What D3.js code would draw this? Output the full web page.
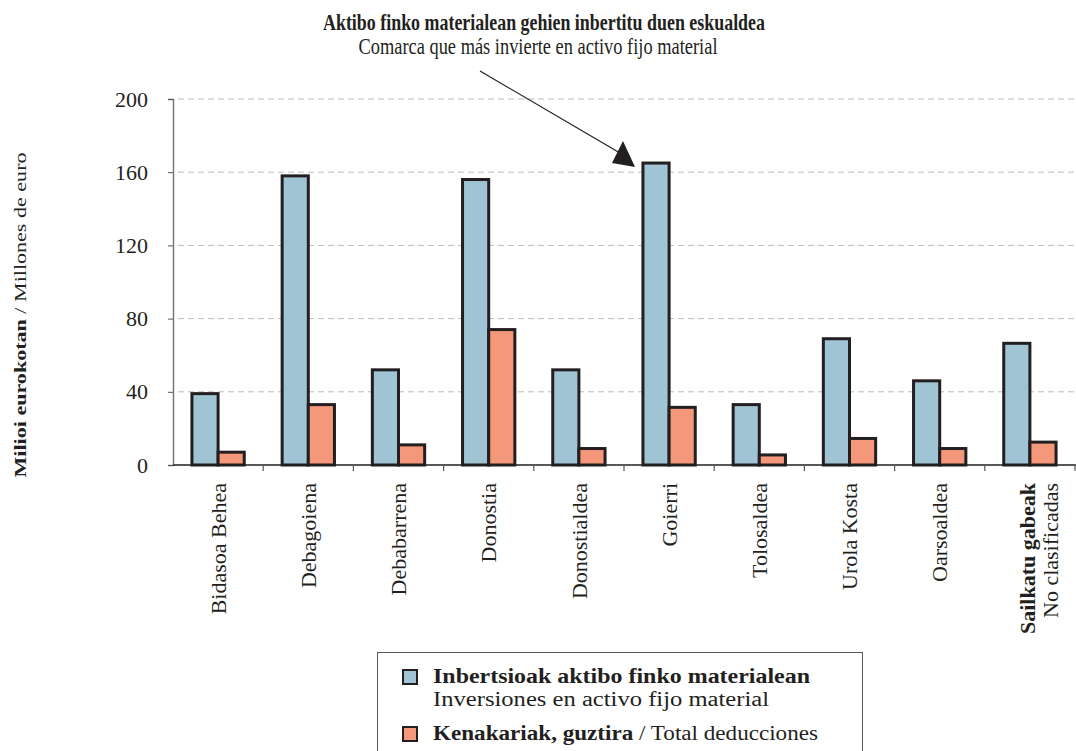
<!DOCTYPE html>
<meta charset="utf-8">
<style>
    body { margin: 0; background: #fff; }
    text { font-family: "Liberation Serif", "Times New Roman", serif; fill: #231f20; }
    .grid line { stroke: #bdbdbd; stroke-width: 1px; stroke-dasharray: 6,4; }
    .bar { stroke: #231f20; stroke-width: 3px; }
</style>
<svg></svg>
<script src="https://cdn.jsdelivr.net/npm/d3@7"></script>
<script>

    var width = 1076,
        height = 751;

    // comarcas
    var categories = ["Bidasoa Behea", "Debagoiena", "Debabarrena", "Donostia", "Donostialdea",
        "Goierri", "Tolosaldea", "Urola Kosta", "Oarsoaldea", "Sailkatu gabeak"];
    // Inbertsioak aktibo finko materialean (milioi euro)
    var inversiones = [39, 158, 52, 156, 52, 165, 33, 69, 46, 66.5];
    // Kenakariak, guztira
    var deducciones = [7, 33, 11, 74, 9, 31.5, 5.5, 14.5, 9, 12.5];
    var yTicks = [0, 40, 80, 120, 160, 200];
    var colors = ["#a0c4d3", "#f4977a"];

    var svg = d3.select("svg")
        .attr("width", width)
        .attr("height", height);

    var x0 = d3.scaleBand()
        .domain(categories)
        .range([173, 1075])
        .paddingInner(0.42)
        .paddingOuter(0.21);

    var x1 = d3.scaleBand()
        .domain([0, 1])
        .range([0, x0.bandwidth()]);

    var y = d3.scaleLinear()
        .domain([0, 200])
        .range([465, 99]);

    // grid
    svg.append("g")
        .attr("class", "grid")
        .selectAll("line")
        .data(yTicks.filter(function(d) { return d > 0; }))
        .enter().append("line")
        .attr("x1", 178).attr("x2", width)
        .attr("y1", function(d) { return y(d); })
        .attr("y2", function(d) { return y(d); });

    // y axis
    var yAxis = svg.append("g")
        .attr("transform", "translate(173,0)")
        .call(d3.axisLeft(y).tickValues(yTicks).tickSize(5).tickPadding(20));
    yAxis.select(".domain").attr("stroke", "#777").attr("stroke-width", 1.5);
    yAxis.selectAll(".tick line").attr("stroke", "#555");
    yAxis.selectAll(".tick text")
        .style("font-family", "Liberation Serif, serif")
        .style("font-size", "22px")
        .attr("fill", "#231f20");

    // bars
    var rows = categories.map(function(c, i) { return {cat: c, vals: [inversiones[i], deducciones[i]]}; });

    svg.append("g")
        .selectAll("g")
        .data(rows)
        .enter().append("g")
        .attr("transform", function(d) { return "translate(" + x0(d.cat) + ",0)"; })
        .selectAll("rect")
        .data(function(d) { return d.vals; })
        .enter().append("rect")
        .attr("class", "bar")
        .attr("x", function(d, i) { return x1(i); })
        .attr("width", x1.bandwidth())
        .attr("y", function(d) { return y(d); })
        .attr("height", function(d) { return y(0) - y(d); })
        .attr("fill", function(d, i) { return colors[i]; });

    // x axis
    svg.append("line")
        .attr("x1", 173).attr("x2", width)
        .attr("y1", y(0)).attr("y2", y(0))
        .attr("stroke", "#231f20").attr("stroke-width", 1.5);

    var step = x0.step();
    svg.append("g")
        .selectAll("line")
        .data(d3.range(1, categories.length + 1))
        .enter().append("line")
        .attr("x1", function(i) { return 173 + i * step; })
        .attr("x2", function(i) { return 173 + i * step; })
        .attr("y1", y(0)).attr("y2", y(0) + 6)
        .attr("stroke", "#555").attr("stroke-width", 1.2);

    var labels = svg.append("g")
        .selectAll("text")
        .data(categories)
        .enter().append("text")
        .attr("transform", function(d) {
            var cx = x0(d) + x0.bandwidth() / 2;
            return "translate(" + cx + ",483) rotate(-90)";
        })
        .attr("text-anchor", "end")
        .attr("dy", "0.35em")
        .style("font-size", "22px");

    labels.each(function(d, i) {
        var t = d3.select(this);
        if (i === categories.length - 1) {
            t.attr("dy", null);
            t.append("tspan").attr("x", 0).attr("dy", "0.35em")
                .style("font-weight", "bold").text(d);
            t.append("tspan").attr("x", 0).attr("dy", "1.05em").text("No clasificadas");
            t.attr("transform", "translate(" + (x0(d) + x0.bandwidth() / 2 - 3) + ",483) rotate(-90)");
        } else {
            t.text(d);
        }
    });

    // y title
    var yt = svg.append("text")
        .attr("transform", "translate(26,315) rotate(-90)")
        .attr("text-anchor", "middle")
        .attr("textLength", 325)
        .attr("lengthAdjust", "spacingAndGlyphs")
        .style("font-size", "17px");
    yt.append("tspan").style("font-weight", "bold").text("Milioi eurokotan");
    yt.append("tspan").text(" / Millones de euro");

    // annotation
    svg.append("text")
        .attr("x", 544).attr("y", 30)
        .attr("text-anchor", "middle")
        .attr("textLength", 442)
        .attr("lengthAdjust", "spacingAndGlyphs")
        .style("font-size", "23px").style("font-weight", "bold")
        .text("Aktibo finko materialean gehien inbertitu duen eskualdea");
    svg.append("text")
        .attr("x", 538).attr("y", 54)
        .attr("text-anchor", "middle")
        .attr("textLength", 359)
        .attr("lengthAdjust", "spacingAndGlyphs")
        .style("font-size", "23px")
        .text("Comarca que más invierte en activo fijo material");

    svg.append("line")
        .attr("x1", 480).attr("y1", 71)
        .attr("x2", 620).attr("y2", 153)
        .attr("stroke", "#231f20").attr("stroke-width", 1.2);
    svg.append("path")
        .attr("d", "M635,167 L612,163 L623,141 Z")
        .attr("fill", "#231f20");

    // legend
    var lg = svg.append("g");
    lg.append("rect")
        .attr("x", 377.5).attr("y", 652.5)
        .attr("width", 485).attr("height", 120)
        .attr("fill", "none").attr("stroke", "#555").attr("stroke-width", 1);

    var legendItems = [
        {c: colors[0], y: 670},
        {c: colors[1], y: 727}
    ];
    lg.selectAll(".sw")
        .data(legendItems)
        .enter().append("rect")
        .attr("x", 403).attr("y", function(d) { return d.y; })
        .attr("width", 14).attr("height", 14)
        .attr("fill", function(d) { return d.c; })
        .attr("stroke", "#231f20").attr("stroke-width", 2);

    lg.append("text")
        .attr("x", 433).attr("y", 683)
        .attr("textLength", 377).attr("lengthAdjust", "spacingAndGlyphs")
        .style("font-size", "20px").style("font-weight", "bold")
        .text("Inbertsioak aktibo finko materialean");
    lg.append("text")
        .attr("x", 433).attr("y", 706)
        .attr("textLength", 336).attr("lengthAdjust", "spacingAndGlyphs")
        .style("font-size", "20px")
        .text("Inversiones en activo fijo material");
    var l3 = lg.append("text")
        .attr("x", 433).attr("y", 740)
        .attr("textLength", 385).attr("lengthAdjust", "spacingAndGlyphs")
        .style("font-size", "20px");
    l3.append("tspan").style("font-weight", "bold").text("Kenakariak, guztira");
    l3.append("tspan").text(" / Total deducciones");

</script>
